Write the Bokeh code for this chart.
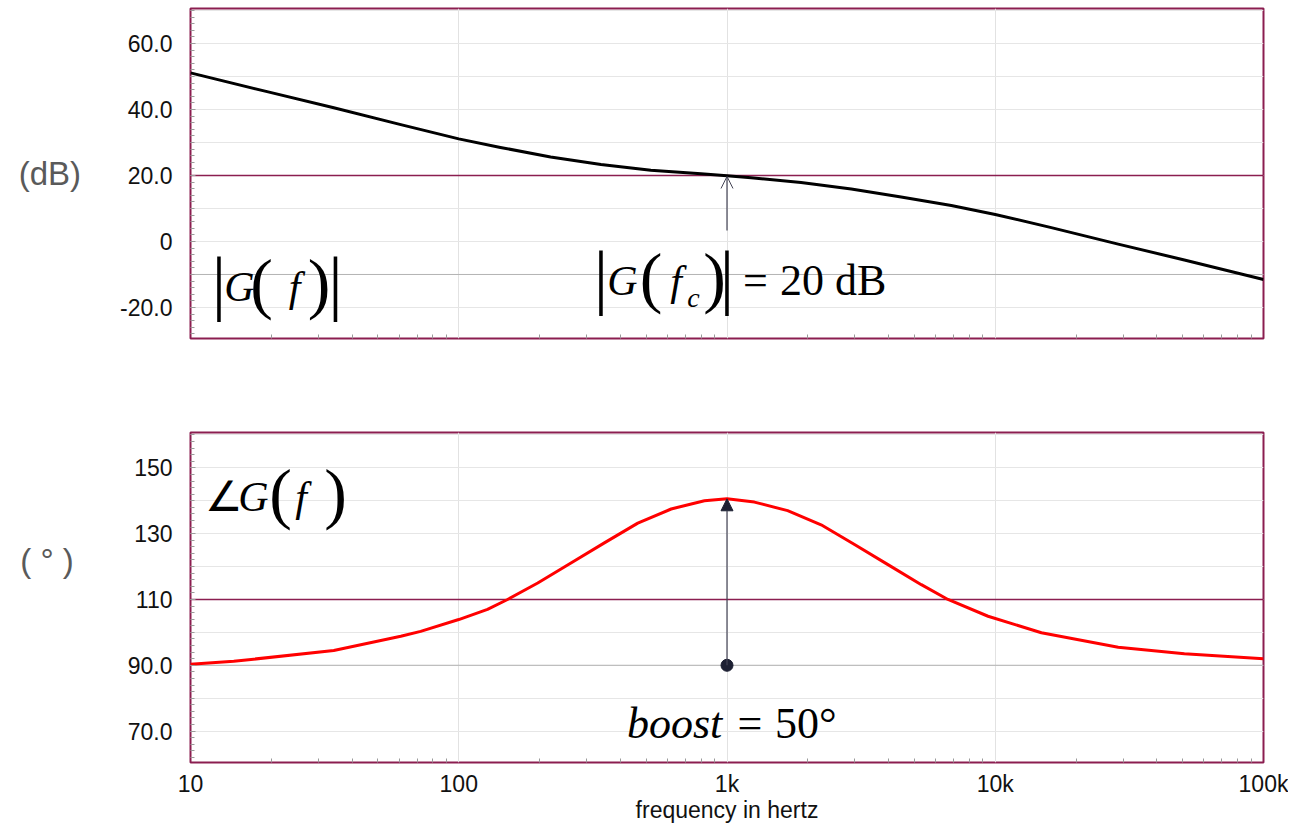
from bokeh.plotting import figure
from bokeh.layouts import column
from bokeh.models import (Range1d, FixedTicker, Span, Label, Arrow, OpenHead, NormalHead)
from bokeh.embed import file_html
from bokeh.resources import INLINE

# ---------------- data ----------------
freq_mag = [10, 19.3, 34.2, 60.8, 100, 143, 220, 339, 520, 800, 1000, 1230, 1888,
            2906, 4457, 6858, 10000, 16181, 28730, 50700, 100000]
mag_db = [51.1, 45.4, 40.5, 35.4, 31.1, 28.5, 25.6, 23.3, 21.6, 20.5, 19.9, 19.3, 17.9,
          15.9, 13.5, 10.9, 8.2, 4.2, -0.8, -5.6, -11.5]

freq_ph = [10, 14.5, 34.2, 60.8, 72.1, 100, 128, 152, 197, 262, 349, 465, 619, 824, 1000,
           1265, 1683, 2243, 2988, 3981, 5302, 6663, 9400, 14860, 28730, 50700, 100000]
phase_deg = [90.3, 91.2, 94.5, 98.8, 100.3, 103.9, 107.0, 110.0, 115.0, 121.1, 127.2, 133.2,
             137.5, 140.0, 140.6, 139.6, 137.0, 132.7, 126.7, 120.6, 114.5, 110.0, 104.9,
             99.9, 95.5, 93.5, 92.0]

x_ticks = [10, 100, 1000, 10000, 100000]
x_labels = ["10", "100", "1k", "10k", "100k"]
x_minor = [m * d for d in [10, 100, 1000, 10000] for m in range(2, 10)]

mag_ticks = [-20, 0, 20, 40, 60]
mag_labels = ["-20.0", "0", "20.0", "40.0", "60.0"]
mag_grid = [-20, -10, 0, 10, 20, 30, 40, 50, 60, 70]
mag_minor = list(range(-28, 71, 2))
mag_range = (-29.4, 70.6)

ph_ticks = [70, 90, 110, 130, 150]
ph_labels = ["70.0", "90.0", "110", "130", "150"]
ph_grid = [70, 80, 90, 100, 110, 120, 130, 140, 150, 160]
ph_minor = list(range(62, 161, 2))
ph_range = (60.45, 160.75)

fc = 1000
mag_ref = 20          # |G(fc)|
mag_gray = -10
ph_ref = 110
ph_gray = 90
boost_base = 90
boost_peak = 140.6
mag_arrow_start = 3.3
mag_arrow_end = 19.7

BORDER = "#8B1E50"
GRID = "#e6e6e6"
TICK = "#9a9a9a"
SANS = "Liberation Sans"
SERIF = "Liberation Serif"
DARK = "#1d2033"
UNIT = "#5a5a5a"


def base_fig(yr, ticks, labels, grid, minor, top, bottom, show_x):
    p = figure(x_axis_type="log", x_range=Range1d(10, 100000), y_range=Range1d(*yr),
               frame_width=1073, frame_height=330, min_border_left=190, min_border_right=25,
               min_border_top=top, min_border_bottom=bottom,
               toolbar_location=None, output_backend="svg",
               background_fill_color="white", border_fill_color="white")
    p.outline_line_color = BORDER
    p.outline_line_width = 2
    # y axis
    ya = p.yaxis[0]
    ya.ticker = FixedTicker(ticks=ticks, minor_ticks=minor)
    ya.major_label_overrides = {t: l for t, l in zip(ticks, labels)}
    ya.axis_line_color = None
    ya.major_tick_in = 5
    ya.major_tick_out = 0
    ya.minor_tick_in = 4
    ya.minor_tick_out = 0
    ya.major_tick_line_color = TICK
    ya.minor_tick_line_color = TICK
    ya.major_label_standoff = 18
    ya.major_label_text_font = SANS
    ya.major_label_text_font_size = "23px"
    ya.major_label_text_color = "#111111"
    ya.axis_label_orientation = "horizontal"
    ya.axis_label_text_font = SANS
    ya.axis_label_text_font_size = "33px"
    ya.axis_label_text_font_style = "normal"
    ya.axis_label_text_color = UNIT
    ya.axis_label_standoff = 36
    # x axis
    xa = p.xaxis[0]
    if show_x:
        xa.ticker = FixedTicker(ticks=x_ticks, minor_ticks=x_minor)
        xa.major_label_overrides = {t: l for t, l in zip(x_ticks, x_labels)}
    else:
        xa.ticker = FixedTicker(ticks=[], minor_ticks=x_minor)
    xa.axis_line_color = None
    xa.major_tick_in = 0
    xa.major_tick_out = 0
    xa.minor_tick_in = 4
    xa.minor_tick_out = 0
    xa.minor_tick_line_color = TICK
    xa.major_label_standoff = 8
    xa.major_label_text_font = SANS
    xa.major_label_text_color = "#111111"
    xa.major_label_text_font_size = "23px"
    xa.axis_label_text_font = SANS
    xa.axis_label_text_font_size = "23px"
    xa.axis_label_text_font_style = "normal"
    xa.axis_label_text_color = "#111111"
    xa.axis_label_standoff = -3
    # grids
    p.xgrid.ticker = FixedTicker(ticks=x_ticks)
    p.xgrid.grid_line_color = "#e2e2e2"
    p.ygrid.ticker = FixedTicker(ticks=grid)
    p.ygrid.grid_line_color = GRID
    return p


def math(p, x, y, pieces):
    # dy: baseline shift in px (up positive) relative to the anchor baseline
    for text, dx, dy, size, style, align in pieces:
        p.add_layout(Label(x=x, y=y, x_offset=dx, y_offset=dy + 0.3 * size, text=text,
                           text_font=SERIF, text_font_style=style,
                           text_font_size=f"{size}px", text_align=align,
                           text_baseline="alphabetic", text_color="black"))


# ---------------- magnitude ----------------
p1 = base_fig(mag_range, mag_ticks, mag_labels, mag_grid, mag_minor, 8, 40, False)
p1.yaxis[0].axis_label = "(dB)"
p1.add_layout(Span(location=mag_gray, dimension="width", line_color="#b3b3b3",
                   line_width=1, level="underlay"))
p1.add_layout(Span(location=mag_ref, dimension="width", line_color=BORDER,
                   line_width=1.5, level="underlay"))
p1.line(freq_mag, mag_db, line_color="black", line_width=3, line_join="round")
p1.add_layout(Arrow(end=OpenHead(size=12, line_color="#444455", line_width=1),
                    x_start=fc, y_start=mag_arrow_start, x_end=fc, y_end=mag_arrow_end,
                    line_color="#444455", line_width=1.2))

BAR = 72
PAR = 68
math(p1, 10, -17.6, [
    ("|", 28.5, -5, BAR, "normal", "center"),
    ("G", 49, 0, 42, "italic", "center"),
    ("(", 71, -4, PAR, "normal", "center"),
    ("f", 104, 0, 42, "italic", "center"),
    (")", 128.5, -4, PAR, "normal", "center"),
    ("|", 145, -5, BAR, "normal", "center"),
])
math(p1, fc, -15.8, [
    ("|", -126, -5, BAR, "normal", "center"),
    ("G", -104.5, 0, 42, "italic", "center"),
    ("(", -76, -4, PAR, "normal", "center"),
    ("f", -51, 0, 42, "italic", "center"),
    ("c", -33.5, -12, 28, "italic", "center"),
    (")", -12.5, -4, PAR, "normal", "center"),
    ("|", 0, -5, BAR, "normal", "center"),
    ("=", 28.5, 0, 44, "normal", "center"),
    ("20 dB", 53, 0, 44, "normal", "left"),
])

# ---------------- phase ----------------
p2 = base_fig(ph_range, ph_ticks, ph_labels, ph_grid, ph_minor, 54, 62, True)
p2.yaxis[0].axis_label = "( ° )\n \n "
p2.yaxis[0].axis_label_standoff = 51
p2.yaxis[0].axis_label_text_line_height = 1.0
p2.xaxis[0].axis_label = "frequency in hertz"
p2.add_layout(Span(location=ph_gray, dimension="width", line_color="#b3b3b3",
                   line_width=1, level="underlay"))
p2.add_layout(Span(location=ph_ref, dimension="width", line_color=BORDER,
                   line_width=1.5, level="underlay"))
p2.line(freq_ph, phase_deg, line_color="#ff0000", line_width=3, line_join="round")
p2.add_layout(Arrow(end=NormalHead(size=12, fill_color=DARK, line_color=DARK),
                    x_start=fc, y_start=boost_base, x_end=fc, y_end=boost_peak,
                    line_color="#444455", line_width=1.2))
p2.scatter([fc], [boost_base], size=12, color=DARK)

math(p2, 10, 137.4, [
    ("∠", 33.5, 0, 42, "normal", "center"),
    ("G", 63, 0, 42, "italic", "center"),
    ("(", 90, -4, PAR, "normal", "center"),
    ("f", 110.5, 0, 42, "italic", "center"),
    (")", 145, -4, PAR, "normal", "center"),
])
math(p2, fc, 68.2, [
    ("boost", -100, 0, 44, "italic", "left"),
    ("=", 23, 0, 44, "normal", "center"),
    ("50°", 48, 0, 44, "normal", "left"),
])

layout = column(p1, p2, spacing=0)
open("out.html", "w").write(file_html(layout, INLINE))
